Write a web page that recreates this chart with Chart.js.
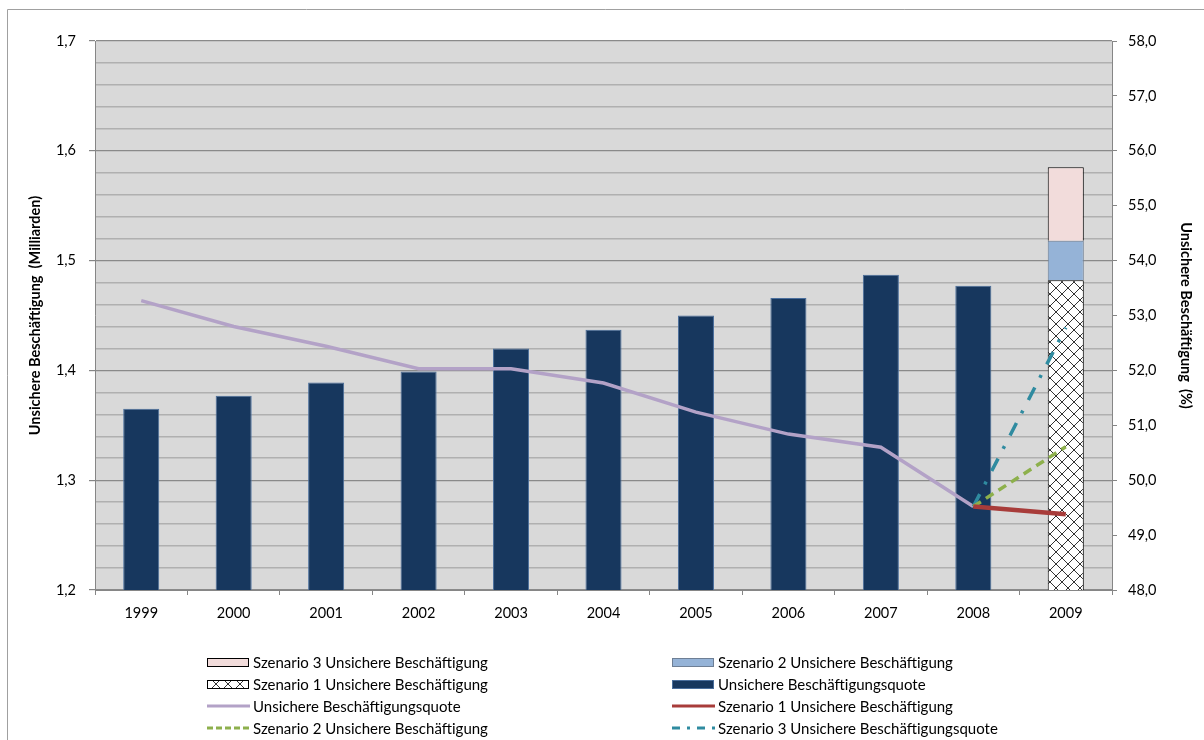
<!DOCTYPE html>
<html>
<head>
<meta charset="utf-8">
<script src="https://cdn.jsdelivr.net/npm/chart.js@4"></script>
<style>
  body { margin: 0; background: #fff; }
  #wrap { position: relative; width: 1204px; height: 740px; }
</style>
</head>
<body>
<div id="wrap"><canvas id="chart" width="1204" height="740"></canvas></div>
<script>
// Unsichere Beschäftigung 1999-2009 mit Szenarien
const years = ['1999', '2000', '2001', '2002', '2003', '2004', '2005', '2006', '2007', '2008', '2009'];

// Milliarden (linke Achse)
const beschaeftigung = [1.365, 1.377, 1.389, 1.399, 1.420, 1.437, 1.450, 1.466, 1.487, 1.477, null];
const szenario1Bar = [null, null, null, null, null, null, null, null, null, null, 1.482];
const szenario2Bar = [null, null, null, null, null, null, null, null, null, null, 0.036];
const szenario3Bar = [null, null, null, null, null, null, null, null, null, null, 0.067];

// Prozent (rechte Achse)
const quote = [53.27, 52.80, 52.44, 52.03, 52.03, 51.77, 51.24, 50.84, 50.60, 49.52, null];
const szenario1Quote = [null, null, null, null, null, null, null, null, null, 49.52, 49.38];
const szenario2Quote = [null, null, null, null, null, null, null, null, null, 49.52, 50.61];
const szenario3Quote = [null, null, null, null, null, null, null, null, null, 49.52, 52.78];

const FONT = 'Lato';

// crosshatch fill for scenario 1
function makeHatch() {
    const c = document.createElement('canvas');
    c.width = 12; c.height = 12;
    const g = c.getContext('2d');
    g.fillStyle = '#ffffff';
    g.fillRect(0, 0, 12, 12);
    g.strokeStyle = '#333333';
    g.lineWidth = 1;
    g.beginPath();
    g.moveTo(0, 0); g.lineTo(12, 12);
    g.moveTo(12, 0); g.lineTo(0, 12);
    g.stroke();
    return g.createPattern(c, 'repeat');
}
const hatch = makeHatch();

const isMajor = v => Math.abs(v * 10 - Math.round(v * 10)) < 1e-6;

const plotBackground = {
    id: 'plotBackground',
    beforeDraw(chart) {
        const { ctx, chartArea: a } = chart;
        ctx.save();
        // outer frame
        ctx.strokeStyle = '#a0a0a0';
        ctx.lineWidth = 1;
        ctx.beginPath();
        ctx.moveTo(7.5, 745);
        ctx.lineTo(7.5, 9.5);
        ctx.lineTo(1204, 9.5);
        ctx.stroke();
        ctx.fillStyle = '#d9d9d9';
        ctx.fillRect(a.left, a.top, a.right - a.left, a.bottom - a.top);
        ctx.restore();
    }
};

// two-column legend below the plot
const legendOrder = [2, 1, 0, 3, 4, 5, 6, 7];
const gridLegend = {
    id: 'gridLegend',
    afterDraw(chart) {
        const ctx = chart.ctx;
        const colX = [207, 672];
        ctx.save();
        ctx.font = '15px ' + FONT;
        ctx.textBaseline = 'middle';
        ctx.fillStyle = '#000';
        legendOrder.forEach((di, i) => {
            const ds = chart.data.datasets[di];
            const x = colX[i % 2];
            const y = 662 + Math.floor(i / 2) * 22;
            if (ds.type === 'bar') {
                ctx.fillStyle = ds.backgroundColor;
                ctx.fillRect(x, y - 4, 42, 8);
                ctx.strokeStyle = ds.borderColor;
                ctx.lineWidth = 1;
                ctx.strokeRect(x + 0.5, y - 3.5, 41, 8);
            } else {
                ctx.strokeStyle = ds.borderColor;
                ctx.lineWidth = 3;
                ctx.setLineDash(ds.legendDash || []);
                ctx.beginPath();
                ctx.moveTo(x, y);
                ctx.lineTo(x + 43, y);
                ctx.stroke();
                ctx.setLineDash([]);
            }
            ctx.fillStyle = '#000';
            ctx.fillText(ds.label, x + 46, y + 1);
        });
        ctx.restore();
    }
};

new Chart(document.getElementById('chart'), {
    data: {
        labels: years,
        datasets: [
            {
                type: 'bar',
                label: 'Szenario 1 Unsichere Beschäftigung',
                data: szenario1Bar,
                backgroundColor: hatch,
                borderColor: '#000000',
                borderWidth: 1,
                stack: 'b',
                yAxisID: 'y',
                order: 2
            },
            {
                type: 'bar',
                label: 'Szenario 2 Unsichere Beschäftigung',
                data: szenario2Bar,
                backgroundColor: '#95b3d7',
                borderColor: '#6e7f95',
                borderWidth: 1,
                stack: 'b',
                yAxisID: 'y',
                order: 2
            },
            {
                type: 'bar',
                label: 'Szenario 3 Unsichere Beschäftigung',
                data: szenario3Bar,
                backgroundColor: '#f2dcdb',
                borderColor: '#000000',
                borderWidth: 1,
                stack: 'b',
                yAxisID: 'y',
                order: 2
            },
            {
                type: 'bar',
                label: 'Unsichere Beschäftigungsquote',
                data: beschaeftigung,
                backgroundColor: '#17375e',
                borderColor: '#4a6e9c',
                borderWidth: 1,
                stack: 'b',
                yAxisID: 'y',
                order: 2
            },
            {
                type: 'line',
                label: 'Unsichere Beschäftigungsquote',
                data: quote,
                borderColor: '#b3a2c7',
                borderWidth: 3.5,
                pointRadius: 0,
                tension: 0,
                yAxisID: 'y1',
                order: 1
            },
            {
                type: 'line',
                label: 'Szenario 1 Unsichere Beschäftigung',
                data: szenario1Quote,
                borderColor: '#a83c3a',
                borderWidth: 4.5,
                pointRadius: 0,
                yAxisID: 'y1',
                order: 0
            },
            {
                type: 'line',
                label: 'Szenario 2 Unsichere Beschäftigung',
                data: szenario2Quote,
                borderColor: '#8db04c',
                borderWidth: 3.5,
                borderDash: [9, 6],
                legendDash: [6, 3],
                pointRadius: 0,
                yAxisID: 'y1',
                order: 0
            },
            {
                type: 'line',
                label: 'Szenario 3 Unsichere Beschäftigungsquote',
                data: szenario3Quote,
                borderColor: '#2f8ba0',
                borderWidth: 3.5,
                borderDash: [14, 11, 3, 12],
                legendDash: [8, 7, 3, 7],
                pointRadius: 0,
                yAxisID: 'y1',
                order: 0
            }
        ]
    },
    options: {
        responsive: false,
        animation: false,
        devicePixelRatio: 1,
        layout: { padding: { left: 24, right: 8, top: 41, bottom: 120 } },
        datasets: { bar: { barPercentage: 0.39, categoryPercentage: 1 } },
        plugins: {
            legend: { display: false },
            tooltip: { enabled: false }
        },
        scales: {
            x: {
                stacked: true,
                offset: true,
                afterFit: s => { s.height = 30; },
                grid: { offset: true, drawOnChartArea: false, color: '#868686', tickLength: 5 },
                border: { color: '#868686' },
                ticks: { font: { family: FONT, size: 14.5 }, color: '#000', padding: 10, maxRotation: 0 }
            },
            y: {
                position: 'left',
                stacked: true,
                min: 1.2,
                max: 1.7,
                afterFit: s => { s.width = 71; },
                afterBuildTicks: s => {
                    const t = [];
                    for (let i = 0; i <= 25; i++) t.push({ value: 1.2 + i * 0.02 });
                    s.ticks = t;
                },
                grid: {
                    color: c => (c.tick && isMajor(c.tick.value)) ? '#8a8a8a' : '#b0b0b0',
                    lineWidth: c => (c.tick && isMajor(c.tick.value)) ? 1.2 : 1.5,
                    tickColor: c => (c.tick && isMajor(c.tick.value)) ? '#868686' : 'rgba(0,0,0,0)',
                    tickLength: 6
                },
                border: { color: '#868686' },
                ticks: {
                    autoSkip: false,
                    padding: 13,
                    color: '#000',
                    font: { family: FONT, size: 14.5 },
                    callback: v => isMajor(v) ? v.toFixed(1).replace('.', ',') : ''
                },
                title: {
                    display: true,
                    text: 'Unsichere Beschäftigung  (Milliarden)',
                    color: '#000',
                    padding: { top: 3, bottom: 3 },
                    font: { family: FONT, size: 14.5, weight: 'bold' }
                }
            },
            y1: {
                position: 'right',
                min: 48,
                max: 58,
                afterFit: s => { s.width = 84; },
                grid: { drawOnChartArea: false, color: '#868686', tickLength: 5 },
                border: { color: '#868686' },
                ticks: {
                    stepSize: 1,
                    padding: 11,
                    color: '#000',
                    font: { family: FONT, size: 14.5 },
                    callback: v => v.toFixed(1).replace('.', ',')
                },
                title: {
                    display: true,
                    text: 'Unsichere Beschäftigung  (%)',
                    color: '#000',
                    padding: { top: 2, bottom: 2 },
                    font: { family: FONT, size: 14.5, weight: 'bold' }
                }
            }
        }
    },
    plugins: [plotBackground, gridLegend]
});
</script>
</body>
</html>
